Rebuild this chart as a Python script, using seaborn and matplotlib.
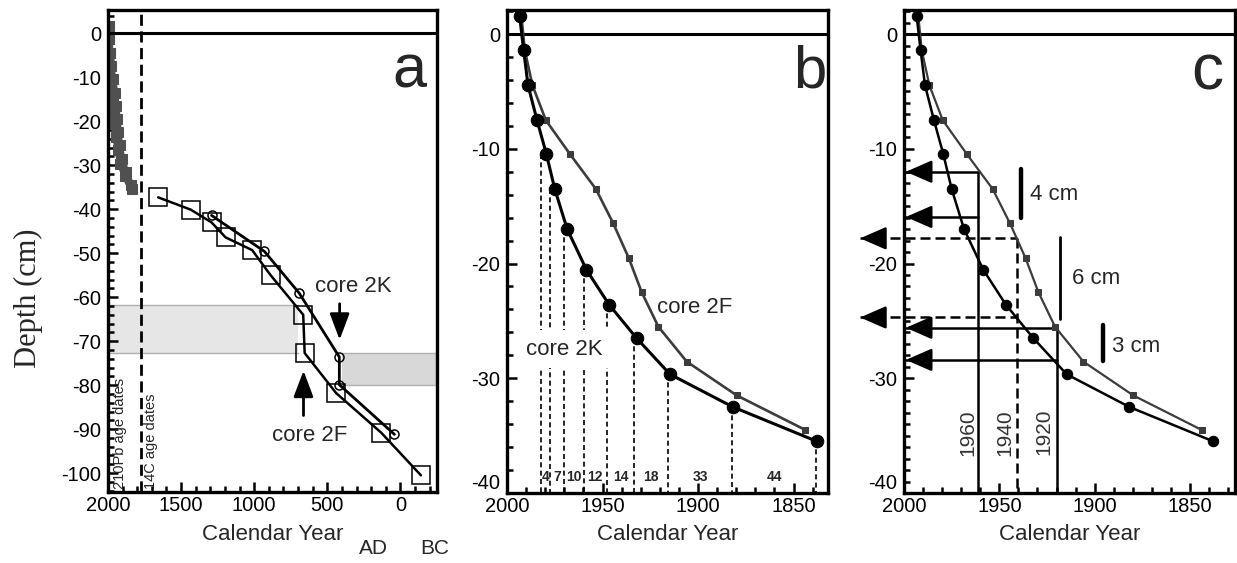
import matplotlib
matplotlib.use("Agg")
import matplotlib.pyplot as plt
import seaborn as sns
from matplotlib.ticker import MultipleLocator

# ---- data ----
# 210Pb dated cores (panels b, c)
years_2k = [1993.4, 1991.3, 1989.0, 1984.3, 1979.4, 1975.0, 1968.5, 1958.4, 1946.5, 1932.2, 1914.7, 1881.8, 1837.8]
depth_2k = [1.6, -1.4, -4.45, -7.5, -10.45, -13.5, -17.0, -20.55, -23.6, -26.5, -29.65, -32.5, -35.5]
years_2f = [1992.5, 1990.7, 1986.7, 1979.7, 1967.1, 1953.5, 1944.4, 1936.2, 1929.5, 1920.8, 1905.9, 1879.7, 1843.9]
depth_2f = [1.6, -1.4, -4.45, -7.5, -10.45, -13.5, -16.5, -19.55, -22.5, -25.5, -28.55, -31.5, -34.5]

# dashed dating lines in panel b (start at the 2K points from the 5th one)
date_lines = [1982.0, 1977.6, 1970.1, 1959.8, 1947.9, 1933.4, 1915.6, 1882.3, 1838.1]
date_tops = depth_2k[4:]
interval_labels = ["4", "7", "10", "12", "14", "18", "33", "44"]

# 14C dated cores (panel a)
years_2f_a = [1657, 1434, 1292, 1196, 1014, 888, 665, 655, 440, 132, -140]
depth_2f_a = [-37.3, -40.1, -43.0, -46.4, -49.3, -55.0, -64.0, -72.7, -81.8, -90.8, -100.5]
years_2k_a = [1292, 930, 692, 418, 418, 41]
depth_2k_a = [-41.4, -49.6, -59.1, -73.6, -79.9, -91.2]

# panel c reading lines
lines_1960 = [-12.0, -15.94]
lines_1940 = [-17.8, -24.7]
lines_1920 = [-25.6, -28.4]
year_1960, year_1940, year_1920 = 1961.0, 1940.9, 1919.9

sns.set_style("ticks")
plt.rcParams["font.family"] = ["Liberation Sans", "DejaVu Sans"]
plt.rcParams["axes.unicode_minus"] = False

W, H = 1237, 563
fig = plt.figure(figsize=(W / 100, H / 100), dpi=100)


def box(l, t, r, b):
    return [l / W, 1 - b / H, (r - l) / W, (b - t) / H]


ax_a = fig.add_axes(box(108, 10, 437, 492))
ax_b = fig.add_axes(box(507, 10, 828, 493))
ax_c = fig.add_axes(box(904, 10, 1235, 493))

for ax in (ax_a, ax_b, ax_c):
    for s in ax.spines.values():
        s.set_linewidth(2.4)
        s.set_color("black")
    ax.tick_params(which="both", direction="in", width=1.8, labelsize=14.5, colors="black")
    ax.tick_params(which="major", length=7)
    ax.tick_params(which="minor", length=4)
    ax.tick_params(axis="x", pad=3)
    ax.tick_params(axis="y", pad=5)
    ax.axhline(0, color="black", lw=2.2, zorder=3)
    ax.set_xlabel("Calendar Year", fontsize=16, labelpad=6)
    ax.set_ylabel("")

# ---------- panel a ----------
ax = ax_a
ax.set_xlim(2000, -250)
ax.set_ylim(-104.3, 5.3)
ax.xaxis.set_major_locator(MultipleLocator(500))
ax.xaxis.set_minor_locator(MultipleLocator(100))
ax.yaxis.set_major_locator(MultipleLocator(10))
ax.yaxis.set_minor_locator(MultipleLocator(2))

ax.fill_between([2000, 700], -72.7, -61.8, color="#e6e6e6", lw=0, zorder=0)
ax.plot([2000, 700], [-61.8, -61.8], color="#b0b0b0", lw=1, zorder=0)
ax.plot([2000, 700], [-72.7, -72.7], color="#b0b0b0", lw=1, zorder=0)
ax.fill_between([400, -250], -79.9, -72.7, color="#d8d8d8", lw=0, zorder=0)
ax.plot([400, -250], [-72.7, -72.7], color="#b0b0b0", lw=1, zorder=0)
ax.plot([400, -250], [-79.9, -79.9], color="#b0b0b0", lw=1, zorder=0)

ax.axvline(1771, color="black", lw=2, ls=(0, (4, 2)))
sns.lineplot(x=years_2k, y=depth_2k, sort=False, estimator=None, color="#505050", lw=5,
             marker="s", markersize=7, markeredgecolor="#505050", ax=ax, zorder=2)
sns.lineplot(x=years_2f, y=depth_2f, sort=False, estimator=None, color="#505050", lw=5,
             marker="s", markersize=7, markeredgecolor="#505050", ax=ax, zorder=2)
sns.lineplot(x=years_2f_a, y=depth_2f_a, sort=False, estimator=None, color="black", lw=1.8,
             marker="s", markersize=13, markerfacecolor="none", markeredgecolor="black",
             markeredgewidth=1.1, ax=ax)
sns.lineplot(x=years_2k_a, y=depth_2k_a, sort=False, estimator=None, color="black", lw=2,
             marker="o", markersize=6.5, markerfacecolor="none", markeredgecolor="black",
             markeredgewidth=1.1, ax=ax)

arrow = dict(arrowstyle="-|>,head_length=0.8,head_width=0.3", color="black", lw=2,
             shrinkA=0, shrinkB=0, mutation_scale=20)
ax.annotate("", xy=(416, -69.7), xytext=(416, -61.5), arrowprops=arrow)
ax.annotate("", xy=(663, -76.7), xytext=(663, -86.9), arrowprops=arrow)
ax.text(583, -57.6, "core 2K", fontsize=16, ha="left", va="center")
ax.text(880, -91.4, "core 2F", fontsize=16, ha="left", va="center")
ax.text(1920, -103.6, "210Pb age dates", rotation=90, fontsize=10.5, ha="center", va="bottom")
ax.text(1703, -103.6, "14C age dates", rotation=90, fontsize=10.5, ha="center", va="bottom")

# ---------- panels b and c shared setup ----------
for ax in (ax_b, ax_c):
    ax.set_ylim(-40, 2.1)
    ax.xaxis.set_major_locator(MultipleLocator(50))
    ax.xaxis.set_minor_locator(MultipleLocator(10))
    ax.set_yticks([-40, -30, -20, -10, 0])
ax_b.set_xlim(2000, 1832)
ax_c.set_xlim(2000, 1826.4)
ax_b.yaxis.set_minor_locator(MultipleLocator(2))
ax_c.yaxis.set_minor_locator(MultipleLocator(1))

# ---------- panel b ----------
ax = ax_b
sns.lineplot(x=years_2f, y=depth_2f, sort=False, estimator=None, color="#3c3c3c", lw=1.9,
             marker="s", markersize=5, markeredgecolor="#3c3c3c", ax=ax, zorder=4)
sns.lineplot(x=years_2k, y=depth_2k, sort=False, estimator=None, color="black", lw=2.2,
             marker="o", markersize=9, markeredgecolor="black", ax=ax, zorder=5)
for x, top in zip(date_lines, date_tops):
    ax.plot([x, x], [top, -40], color="black", lw=1.2, ls=(0, (3, 2)), zorder=2)
for i, lab in enumerate(interval_labels):
    xm = (date_lines[i] + date_lines[i + 1]) / 2
    ax.text(xm, -38.6, lab, fontsize=10, fontweight="bold", ha="center", va="center")
ax.text(1921.7, -23.85, "core 2F", fontsize=16, ha="left", va="center")
ax.text(1989.9, -27.45, "core 2K", fontsize=16, ha="left", va="center", zorder=3,
        bbox=dict(boxstyle="square,pad=0.4", fc="white", ec="none"))

# ---------- panel c ----------
ax = ax_c
sns.lineplot(x=years_2f, y=depth_2f, sort=False, estimator=None, color="#3c3c3c", lw=1.6,
             marker="s", markersize=4.5, markeredgecolor="#3c3c3c", ax=ax, zorder=4)
sns.lineplot(x=years_2k, y=depth_2k, sort=False, estimator=None, color="black", lw=1.8,
             marker="o", markersize=7.5, markeredgecolor="black", ax=ax, zorder=5)

head = dict(arrowstyle="-|>,head_length=0.8,head_width=0.35", color="black", lw=1.8,
            shrinkA=0, shrinkB=0, mutation_scale=20)
for yr, ys in ((year_1960, lines_1960), (year_1920, lines_1920)):
    for y in ys:
        ax.plot([2000, yr], [y, y], color="black", lw=1.8, zorder=3)
        ax.annotate("", xy=(1999, y), xytext=(1990, y), arrowprops=head, zorder=6)
    ax.plot([yr, yr], [ys[0], -40], color="black", lw=1.8, zorder=3)
for y in lines_1940:
    ax.plot([2023, year_1940], [y, y], color="black", lw=1.8, ls=(0, (4, 2)),
            clip_on=False, zorder=3)
    ax.annotate("", xy=(2023, y), xytext=(2012, y), arrowprops=head,
                annotation_clip=False, zorder=6)
ax.plot([year_1940, year_1940], [lines_1940[0], -40], color="black", lw=1.8,
        ls=(0, (4, 2)), zorder=3)

ax.plot([1938.6, 1938.6], [-11.76, -16.0], color="black", lw=3.2, zorder=3)
ax.plot([1918.2, 1918.2], [-17.7, -24.8], color="black", lw=2, zorder=3)
ax.plot([1895.8, 1895.8], [-25.4, -28.5], color="black", lw=3.2, zorder=3)
ax.text(1933.9, -13.96, "4 cm", fontsize=16, ha="left", va="center")
ax.text(1911.9, -21.3, "6 cm", fontsize=16, ha="left", va="center")
ax.text(1891.1, -27.2, "3 cm", fontsize=16, ha="left", va="center")
for x, lab in ((1966.3, "1960"), (1947.0, "1940"), (1926.9, "1920")):
    ax.text(x, -34.7, lab, rotation=90, fontsize=15, color="#333333", ha="center", va="center")

# lift the bottom "-40" labels a little so they clear the "2000" year label
for ax in (ax_b, ax_c):
    ax.get_yticklabels()[0].set_verticalalignment("bottom")

# ---------- figure-level text ----------
fig.text(28 / W, 1 - 298 / H, "Depth (cm)", rotation=90, fontsize=22, ha="center", va="center",
         family=["Liberation Serif", "DejaVu Serif"])
fig.text(373 / W, 1 - 548 / H, "AD", fontsize=15, ha="center", va="center")
fig.text(435 / W, 1 - 548 / H, "BC", fontsize=15, ha="center", va="center")
fig.text(409 / W, 1 - 87 / H, "a", fontsize=44, ha="center", va="baseline")
fig.text(810 / W, 1 - 87 / H, "b", fontsize=43, ha="center", va="baseline")
fig.text(1207 / W, 1 - 90 / H, "c", fontsize=46, ha="center", va="baseline")

fig.savefig("out.png", dpi=100)
